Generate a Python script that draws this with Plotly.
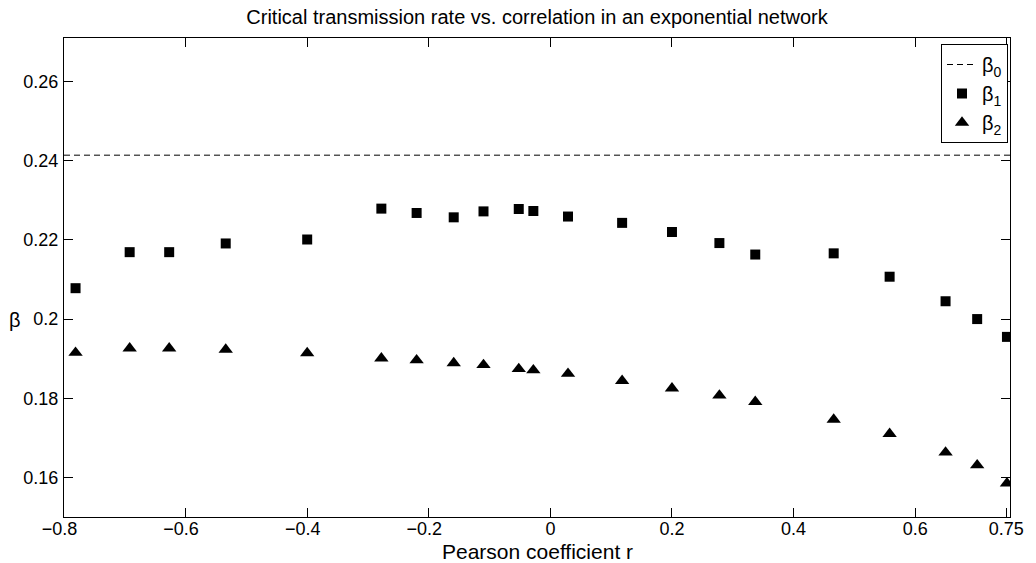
import plotly.graph_objects as go

# Data
r_vals = [-0.781, -0.692, -0.627, -0.534, -0.400, -0.278, -0.220, -0.159, -0.110,
          -0.052, -0.028, 0.029, 0.118, 0.200, 0.278, 0.337, 0.466, 0.558, 0.650,
          0.702, 0.751]
beta1 = [0.2078, 0.2169, 0.2169, 0.2191, 0.2201, 0.2279, 0.2268, 0.2257, 0.2272,
         0.2278, 0.2273, 0.2259, 0.2243, 0.2220, 0.2192, 0.2163, 0.2166, 0.2107,
         0.2045, 0.2000, 0.1955]
beta2 = [0.1915, 0.1926, 0.1926, 0.1923, 0.1914, 0.1901, 0.1896, 0.1889, 0.1884,
         0.1874, 0.1871, 0.1862, 0.1844, 0.1825, 0.1807, 0.1791, 0.1746, 0.1710,
         0.1663, 0.1631, 0.1585]
beta0 = 0.2414

x_range = [-0.8, 0.756]
y_range = [0.15, 0.271]
x_ticks = [-0.8, -0.6, -0.4, -0.2, 0, 0.2, 0.4, 0.6, 0.75]
x_ticktext = ["\u22120.8\u2002", "\u22120.6\u2002", "\u22120.4\u2002", "\u22120.2\u2002",
              "0", "0.2", "0.4", "0.6", "0.75"]
y_ticks = [0.16, 0.18, 0.20, 0.22, 0.24, 0.26]
y_ticktext = ["0.16", "0.18", "0.2", "0.22", "0.24", "0.26"]

FONT = "Liberation Sans, Arial, sans-serif"

W, H = 1036, 563
L, R, T, B = 64, 1036 - 1017, 38, 563 - 517
plot_w = W - L - R
plot_h = H - T - B

fig = go.Figure()
fig.add_trace(go.Scatter(
    x=x_range, y=[beta0, beta0], mode="lines", name="\u03b2<sub>0</sub>",
    line=dict(color="black", width=1, dash="6px,4px"), hoverinfo="skip"))
fig.add_trace(go.Scatter(
    x=r_vals, y=beta1, mode="markers", name="\u03b2<sub>1</sub>",
    marker=dict(symbol="square", size=10, color="black")))
fig.add_trace(go.Scatter(
    x=r_vals, y=beta2, mode="markers", name="\u03b2<sub>2</sub>",
    marker=dict(symbol="triangle-up", size=12.5, color="black")))

axis_common = dict(showline=True, linecolor="black", linewidth=1, mirror="ticks",
                   ticks="inside", ticklen=9, tickcolor="black", tickwidth=1,
                   showgrid=False, zeroline=False,
                   tickfont=dict(family=FONT, size=18, color="black"))

fig.update_xaxes(range=x_range, tickvals=x_ticks, ticktext=x_ticktext,
                 ticklabelstandoff=-5, **axis_common)
fig.update_yaxes(range=y_range, tickvals=y_ticks, ticktext=y_ticktext,
                 ticklabelstandoff=1, **axis_common)

fig.update_layout(
    width=W, height=H,
    margin=dict(l=L, r=R, t=T, b=B),
    paper_bgcolor="white", plot_bgcolor="white",
    font=dict(family=FONT, color="black"),
    title=dict(text="Critical transmission rate vs. correlation in an exponential network",
               x=0.5, xanchor="center", xref="paper", y=1 - 17 / H, yref="container",
               yanchor="middle", font=dict(family=FONT, size=20, color="black")),
    showlegend=True,
    legend=dict(x=(1015 - L) / plot_w, y=(517 - 44) / plot_h, xanchor="right", yanchor="top",
                bgcolor="white", bordercolor="black", borderwidth=1,
                font=dict(family=FONT, size=20, color="black"),
                itemwidth=30, tracegroupgap=0),
    annotations=[
        dict(text="Pearson coefficient r", xref="paper", yref="paper",
             x=0.5, y=(517 - 551) / plot_h, xanchor="center", yanchor="middle",
             showarrow=False, font=dict(family=FONT, size=21, color="black")),
        dict(text="\u03b2", xref="paper", yref="paper",
             x=(15 - L) / plot_w, y=(517 - 320) / plot_h, xanchor="center", yanchor="middle",
             showarrow=False, font=dict(family=FONT, size=20, color="black")),
    ],
)

fig.write_html("out.html", config={"displayModeBar": False},
               post_script="document.body.style.margin='0';")
